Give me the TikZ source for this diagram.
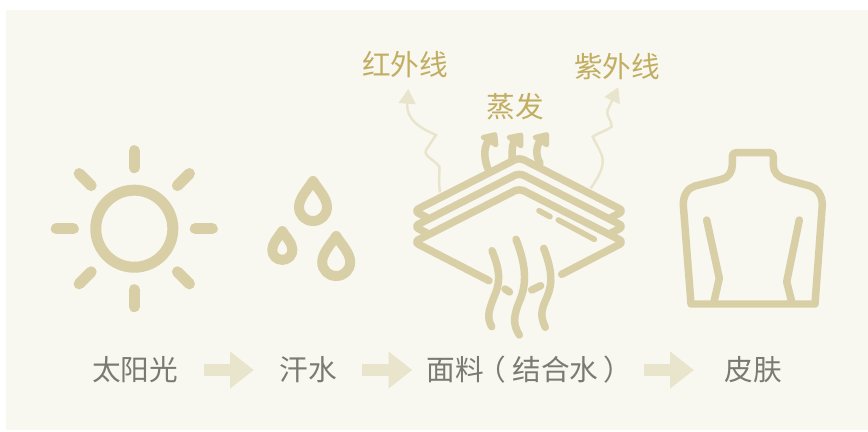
\documentclass[tikz,border=0pt]{standalone}
\usepackage{fontspec}
\setmainfont{Noto Sans CJK SC}
\usetikzlibrary{arrows.meta}
\definecolor{paper}{HTML}{F8F7F0}
\definecolor{icongold}{HTML}{D9CFA6}
\definecolor{palegold}{HTML}{E9E4CC}
\definecolor{labelgold}{HTML}{C2AE62}
\definecolor{labelgray}{HTML}{7C7873}
\tikzset{
  iconline/.style={draw=icongold, line width=5.6pt, line cap=round, line join=round},
  thinline/.style={draw=palegold, line width=1.8pt, -{Triangle[length=11pt,width=12.5pt]}},
  steplabel/.style={text=labelgray, font=\fontsize{21.5pt}{24pt}\selectfont, inner sep=0pt},
  toplabel/.style={text=labelgold, font=\fontsize{21.5pt}{24pt}\selectfont, inner sep=0pt},
  flowarrow/.style={draw=palegold, line width=9.5pt, -{Triangle[length=17.7pt,width=26.5pt]}},
  raindrop/.pic={
    \draw[iconline, line width=7.5pt] (0,-27) .. controls (-5,-19) and (-14,-10) .. (-14,-1)
      .. controls (-14,7) and (-8,13) .. (0,13)
      .. controls (8,13) and (14,7) .. (14,-1)
      .. controls (14,-10) and (5,-19) .. (0,-27) -- cycle;
  }
}
\begin{document}
\begin{tikzpicture}[x=0.75pt,y=-0.75pt]
  \useasboundingbox (0,0) rectangle (868,432);
  \fill[paper] (6,10) rectangle (868,430);

  % sun
  \coordinate (sun) at (134.3,228.7);
  \draw[iconline, line width=8.25pt] (sun) circle[radius=28.9pt];
  \foreach \ang in {0,45,...,315}
    \draw[iconline, line width=8.25pt, shift={(sun)}] (\ang:61) -- (\ang:78);

  % drops
  \pic at (313,208) {raindrop};
  \pic at (336.2,263) {raindrop};
  \pic[scale=0.72] at (282.3,250.5) {raindrop};

  % thin rays
  \coordinate (irstart) at (440,192.3);
  \coordinate (irtip) at (408.3,89);
  \coordinate (uvstart) at (590.7,188.3);
  \coordinate (uvtip) at (618.3,87.3);
  \draw[thinline] (irstart) .. controls (438,180) and (440,172) .. (439.3,166.7)
    .. controls (435,160) and (423,156) .. (426,150) -- (436,135)
    .. controls (420,128) and (406,120) .. (irtip);
  \draw[thinline] (uvstart) .. controls (600,175) and (605,165) .. (601.7,155)
    .. controls (599,148) and (595,142) .. (592.7,136.7)
    .. controls (600,132) and (606,131) .. (611.7,126.7)
    .. controls (612,120) and (605,115) .. (607.7,110) -- (uvtip);

  % steam
  \draw[iconline] (487.7,168.3) .. controls (483,155) and (484,146) .. (490,138.3);
  \draw[iconline] (512,158.3) .. controls (512,150) and (512,144) .. (515.7,137.3);
  \draw[iconline] (540,163.3) .. controls (535,154) and (536,146) .. (541.7,138.3);
  \filldraw[iconline, fill=icongold, line width=3.5pt] (483,137.3) -- (495,134.5) -- (496,145) -- cycle;
  \filldraw[iconline, fill=icongold, line width=3.5pt] (509,137.3) -- (521,135) -- (521,146) -- cycle;
  \filldraw[iconline, fill=icongold, line width=3.5pt] (535,137.3) -- (546.7,134.5) -- (546.7,145) -- cycle;

  % fabric layers
  \foreach \dy in {0,15.5}
    \draw[iconline, rounded corners=4pt, shift={(0,\dy)}] (427,217.5) -- (414,211) -- (519.3,157.5) -- (624,211) -- (611,217.5);
  \draw[iconline, rounded corners=4pt] (489,280.7) -- (414,242) -- (519.3,188.5) -- (624,242) -- (561.7,274.3);
  \draw[iconline, line width=4.2pt] (539,210.7) -- (550,216.7);
  \draw[iconline, line width=4.2pt] (558.3,220) -- (594.3,239.3);

  % water through the fabric
  \draw[iconline] (492,250.7) .. controls (502,275) and (499,285) .. (494,297) .. controls (488,312) and (487,318) .. (491.7,326.7);
  \draw[iconline] (516,239.3) .. controls (526,265) and (527,283) .. (520,300) .. controls (513,316) and (513,325) .. (519.3,335);
  \draw[iconline] (543.7,248.3) .. controls (552,270) and (553,283) .. (547,297) .. controls (541,310) and (540,316) .. (545.3,327.3);
  \draw[iconline] (505,289) -- (509.5,292);
  \draw[iconline] (531.7,290) -- (540.7,285.7);

  % torso
  \draw[iconline] (691,304) -- (683.3,205) .. controls (683,195) and (688,188) .. (695,186)
    -- (721.7,179.3) .. controls (728,178) and (732.3,172) .. (732.3,165)
    -- (732.3,157) .. controls (732.3,154) and (733,152.7) .. (736,152.7)
    -- (770,152.7) .. controls (772.5,152.7) and (773.3,154) .. (773.3,157)
    -- (773.3,165) .. controls (773.3,172) and (778,177) .. (785,179.3)
    -- (810,186) .. controls (817,188) and (822.3,195) .. (822.3,205)
    -- (815,304) -- cycle;
  \draw[iconline] (706.7,220) -- (719.3,278.3) -- (714,301.7);
  \draw[iconline] (799.3,220) -- (786.7,281.7) -- (791.7,301.7);

  % labels
  \node[toplabel] (irlabel) at (405,65) {红外线};
  \node[toplabel] (uvlabel) at (617,67) {紫外线};
  \node[toplabel] (vaporlabel) at (515,106.7) {蒸发};
  \node[steplabel] (sunlabel) at (135,370) {太阳光};
  \node[steplabel] (sweatlabel) at (308,370) {汗水};
  \node[steplabel] (fabriclabel) at (526.7,370) {面料\kern-4.5pt（\kern4.5pt结合水\kern3.75pt）\kern-3.75pt};
  \node[steplabel] (skinlabel) at (753,370) {皮肤};

  \draw[flowarrow, shorten <=19pt, shorten >=19pt] (sunlabel.east |- 0,370) -- (sweatlabel.west |- 0,370);
  \draw[flowarrow, shorten <=19pt, shorten >=10.4pt] (sweatlabel.east |- 0,370) -- (fabriclabel.west |- 0,370);
  \draw[flowarrow, shorten <=12.3pt, shorten >=22.7pt] (fabriclabel.east |- 0,370) -- (skinlabel.west |- 0,370);
\end{tikzpicture}
\end{document}
